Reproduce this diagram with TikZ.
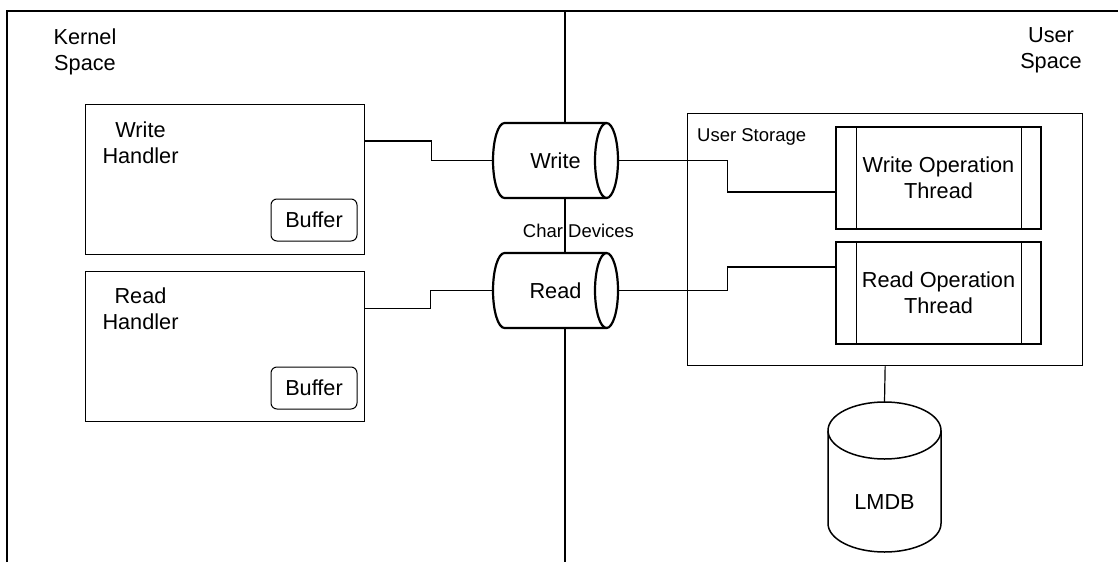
\documentclass[tikz,border=0pt]{standalone}
\usepackage{fontspec}
\setmainfont{Liberation Sans}
\tikzset{
  big/.style={font=\fontsize{21.7}{26}\selectfont, align=center, inner sep=0pt},
  small/.style={font=\fontsize{18.5}{22}\selectfont, inner sep=0pt},
  boxline/.style={draw, line width=1.3pt},
  bufbox/.style={draw, line width=1pt, rounded corners=6pt, minimum width=86pt, minimum height=42pt, big},
  conn/.style={draw, line width=1.2pt},
  cylline/.style={line width=2.2pt},
  dbline/.style={line width=1.5pt}
}
\begin{document}
\begin{tikzpicture}[x=1pt,y=-1pt]
\useasboundingbox (0,0) rectangle (1118,562);
\fill[white] (0,0) rectangle (1118,562);
% frame and divider
\draw[line width=1.4pt] (7,562) -- (7,11) -- (1118,11);
\draw[line width=1.3pt] (565,11) -- (565,562);
% space labels
\node[big] (kernel) at (85,52) {Kernel\\Space};
\node[big] (user) at (1051,50) {User\\Space};
% handlers
\node[boxline, minimum width=279pt, minimum height=150pt, anchor=north west, inner sep=0pt] (wh) at (85,104) {};
\node[big] (whtext) at (140.5,143) {Write\\Handler};
\node[bufbox] (wbuf) at (314,220) {Buffer};
\node[boxline, minimum width=279pt, minimum height=150pt, anchor=north west, inner sep=0pt] (rh) at (85,271) {};
\node[big] (rhtext) at (140.5,309) {Read\\Handler};
\node[bufbox] (rbuf) at (314,388) {Buffer};
% char device cylinders
\filldraw[fill=white, cylline] (504.5,123) -- (606.5,123) arc[start angle=-90,end angle=90,x radius=11.5,y radius=37.5] -- (504.5,198) arc[start angle=90,end angle=270,x radius=11.5,y radius=37.5] -- cycle;
\draw[cylline] (606.5,123) arc[start angle=-90,end angle=-270,x radius=11.5,y radius=37.5];
\node[big, minimum width=125pt, minimum height=75pt] (wcyl) at (555.5,160.5) {Write};
\filldraw[fill=white, cylline] (504.5,253) -- (606.5,253) arc[start angle=-90,end angle=90,x radius=11.5,y radius=37.5] -- (504.5,328) arc[start angle=90,end angle=270,x radius=11.5,y radius=37.5] -- cycle;
\draw[cylline] (606.5,253) arc[start angle=-90,end angle=-270,x radius=11.5,y radius=37.5];
\node[big, minimum width=125pt, minimum height=75pt] (rcyl) at (555.5,290.5) {Read};
\node[small, anchor=base] (chardev) at (578.5,237) {Char Devices};
% user storage
\node[boxline, minimum width=395pt, minimum height=252pt, anchor=north west, inner sep=0pt] (us) at (687,113) {};
\node[small, anchor=base west] (ustext) at (697,141) {User Storage};
\node[boxline, big, minimum width=205pt, minimum height=102pt] (wt) at (938.5,178) {Write Operation\\Thread};
\draw[line width=1.3pt] ([xshift=21pt]wt.north west) -- ([xshift=21pt]wt.south west);
\draw[line width=1.3pt] ([xshift=-20pt]wt.north east) -- ([xshift=-20pt]wt.south east);
\node[boxline, big, minimum width=205pt, minimum height=102pt] (rt) at (938.5,293) {Read Operation\\Thread};
\draw[line width=1.3pt] ([xshift=21pt]rt.north west) -- ([xshift=21pt]rt.south west);
\draw[line width=1.3pt] ([xshift=-20pt]rt.north east) -- ([xshift=-20pt]rt.south east);
% LMDB
\filldraw[fill=white, dbline] (828,430.5) -- (828,523.5) arc[start angle=180,end angle=0,x radius=56.5,y radius=28.5] -- (941,430.5) arc[start angle=0,end angle=-180,x radius=56.5,y radius=28.5] -- cycle;
\draw[dbline] (828,430.5) arc[start angle=180,end angle=0,x radius=56.5,y radius=28.5];
\node[minimum width=113pt, minimum height=150pt, inner sep=0pt] (lmdb) at (884.5,477) {};
\node[big] (lmdbtext) at (884.5,502) {LMDB};
% connectors
\draw[conn] ([yshift=-37pt]wh.north east) -- ++(66,0) |- (wcyl.west);
\draw[conn] ([yshift=-37.5pt]rh.north east) -- ++(65,0) |- (rcyl.west);
\draw[conn] (wcyl.east) -- ++(109,0) |- ([yshift=-14pt]wt.west);
\draw[conn] (rcyl.east) -- ++(109,0) |- ([yshift=26pt]rt.west);
\draw[conn] (us.south) -- (lmdb.north);
\end{tikzpicture}
\end{document}
